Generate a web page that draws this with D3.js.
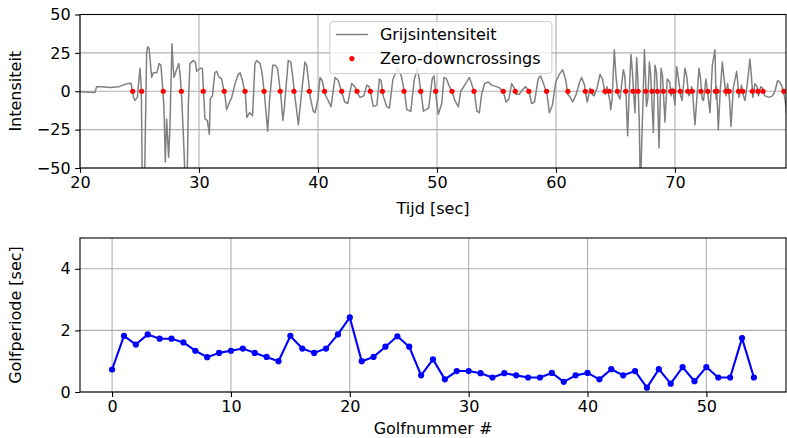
<!DOCTYPE html>
<html>
<head>
<meta charset="utf-8">
<script src="https://cdn.jsdelivr.net/npm/d3@7"></script>
<style>
  html, body { margin: 0; padding: 0; background: #fff; }
  svg { display: block; }
  text { font-family: "DejaVu Sans", sans-serif; fill: #000; }
</style>
</head>
<body>
<svg id="chart" width="787" height="438"></svg>
<script>
// Grey intensity signal: [time in sec, intensity]
const signal = [
  [20.0,-0.3],[21.25,-0.8],[21.4,3],[21.8,3],[22.5,2.5],[23.3,3],[23.6,4],[24.0,5],[24.3,5],
  [24.5,-4],[24.62,-6],[24.82,-4],[25.04,15],[25.15,3],[25.25,-70],[25.4,-70],[25.6,25],[25.69,29],
  [25.8,28],[25.9,20],[26.02,9],[26.16,12],[26.45,12],[26.65,18],[26.8,17],[26.92,5],[27.05,-10],
  [27.17,-46],[27.28,-18],[27.45,-43],[27.55,-25],[27.73,31],[27.82,17],[27.9,9],[28.07,13],[28.3,18],
  [28.42,10],[28.55,-5],[28.75,-40],[28.88,-70],[28.98,-70],[29.1,-10],[29.24,18],[29.52,20],[29.7,19],
  [29.8,13],[30.1,15],[30.28,15],[30.4,-3],[30.5,-18],[30.7,-19],[30.87,-28],[30.95,-5],[31.13,-3],
  [31.33,12],[31.48,13],[31.7,9],[31.9,8],[32.2,-4],[32.32,-12],[32.52,-8],[32.75,-4],[33.03,5],
  [33.3,11],[33.45,12],[33.65,7],[33.9,-2],[34.02,-17],[34.25,-14],[34.5,-16],[34.7,18],[34.85,20],
  [35.13,18],[35.3,12],[35.5,-2],[35.77,-26],[35.92,-7],[36.2,17],[36.4,17],[36.6,15],[36.88,-3],
  [37.05,-19],[37.17,-11],[37.5,20],[37.72,19],[37.9,8],[38.05,-3],[38.2,-12],[38.35,-22],[38.55,-6],
  [38.9,19],[39.05,17],[39.2,7],[39.35,-4],[39.6,-13],[39.75,-14],[40.0,-5],[40.17,9],[40.35,7],
  [40.6,-2],[40.85,-6],[41.1,-10],[41.43,9],[41.7,7],[42.05,-2],[42.25,-7],[42.5,-8],[42.83,5],
  [43.1,3],[43.3,-1],[43.53,-4],[43.85,-3],[44.1,4],[44.3,3],[44.45,-2],[44.65,-10],[44.95,-9],
  [45.16,8],[45.3,7],[45.48,-3],[45.77,-10],[46.0,-11],[46.3,8],[46.7,15],[47.0,10],[47.3,-2],
  [47.46,-12],[47.8,-13],[48.1,8],[48.38,15],[48.55,5],[48.7,-3],[48.86,-13],[49.3,-11],[49.6,8],
  [49.75,10],[49.9,-2],[50.11,-15],[50.4,-8],[50.59,9],[50.8,8],[51.0,4],[51.3,-1],[51.5,-6],
  [51.79,-10],[52.0,0],[52.49,6],[52.72,9],[52.9,5],[53.15,-1],[53.35,-13],[53.56,-14],[53.75,-2],
  [54.0,5],[54.31,6],[54.6,4],[55.0,3],[55.3,2],[55.6,-1],[55.8,-7],[56.05,-5],[56.27,5],[56.5,2],
  [56.62,-2],[56.9,-2],[57.2,1],[57.45,3],[57.65,1],[57.78,-2],[57.95,-8],[58.2,-7],[58.5,8],
  [58.71,10],[58.95,5],[59.25,-2],[59.44,-14],[59.7,-9],[59.98,6],[60.28,11],[60.56,14],[60.8,8],
  [61.0,-2],[61.2,-4],[61.4,-7],[61.7,-2],[61.95,5],[62.15,9],[62.4,4],[62.5,-2],[62.63,-7],
  [62.85,2],[63.05,-2],[63.2,-3],[63.45,2],[63.7,11],[63.9,8],[64.15,-2],[64.28,3],[64.52,-6],
  [64.6,-12],[64.72,-5],[64.9,27],[65.05,9],[65.2,-2],[65.38,-5],[65.66,14],[65.78,10],[65.9,-4],
  [66.02,-29],[66.15,-2],[66.3,24],[66.42,13],[66.55,-4],[66.64,-14],[66.78,22],[66.88,8],[67.0,-20],
  [67.1,-70],[67.18,-40],[67.3,-10],[67.43,27],[67.52,10],[67.6,-10],[67.72,-5],[67.85,19],[67.95,12],
  [68.08,-10],[68.18,-27],[68.32,17],[68.45,12],[68.55,-5],[68.66,-37],[68.83,15],[68.95,10],[69.05,-4],
  [69.16,-20],[69.35,8],[69.55,6],[69.68,-3],[69.78,2],[69.9,-3],[70.0,-9],[70.14,16],[70.3,8],
  [70.48,-3],[70.6,-6],[70.84,15],[70.98,10],[71.15,-3],[71.3,-1],[71.4,3],[71.5,-3],[71.68,-22],
  [71.85,-3],[72.02,15],[72.15,8],[72.28,-5],[72.4,-6],[72.6,8],[72.78,-3],[72.94,-14],[73.14,17],
  [73.36,27],[73.45,-5],[73.49,3],[73.58,-12],[73.64,-25],[73.8,0],[73.98,19],[74.1,10],[74.3,-3],
  [74.42,5],[74.58,-5],[74.71,-23],[74.9,2],[75.18,13],[75.28,5],[75.38,-4],[75.6,4],[75.75,-3],
  [75.88,-6],[76.05,3],[76.3,21],[76.42,10],[76.55,-4],[76.72,5],[76.9,3],[77.02,-3],[77.2,3],
  [77.35,2],[77.5,-2],[77.56,-3],[77.9,-4],[78.2,-3],[78.4,0],[78.63,7],[78.8,6],[79.0,3],
  [79.25,-5],[79.39,-16],[79.6,-5]
];

// Times (sec) where the signal crosses zero going down
const downcrossings = [
  24.43, 25.18, 27.0, 28.52, 30.36, 32.12, 33.87, 35.47, 36.83, 37.98,
  39.27, 40.55, 41.99, 43.28, 44.4, 45.41, 47.23, 48.63, 49.89, 51.26,
  53.11, 55.57, 56.58, 57.72, 59.21, 61.0, 62.47, 63.0, 64.12, 64.48,
  65.16, 65.86, 66.47, 66.9, 67.54, 68.07, 68.52, 69.02, 69.64, 69.9,
  70.45, 71.07, 71.45, 72.18, 72.75, 73.40, 73.54, 74.28, 74.55, 75.34,
  75.70, 76.5, 76.97, 77.4, 79.15, 79.65
];

// Wave period (sec) per wave number
const wavePeriods = [
  0.73, 1.82, 1.54, 1.87, 1.73, 1.73, 1.61, 1.34, 1.13, 1.27,
  1.34, 1.41, 1.27, 1.14, 1.0, 1.82, 1.41, 1.27, 1.41, 1.87,
  2.42, 1.0, 1.14, 1.47, 1.81, 1.47, 0.54, 1.06, 0.41, 0.68,
  0.68, 0.61, 0.47, 0.61, 0.54, 0.47, 0.47, 0.62, 0.33, 0.54,
  0.62, 0.41, 0.74, 0.54, 0.68, 0.14, 0.74, 0.27, 0.81, 0.35,
  0.81, 0.47, 0.47, 1.75, 0.47
];

const topXTicks = [20, 30, 40, 50, 60, 70];
const topYTicks = [-50, -25, 0, 25, 50];
const botXTicks = [0, 10, 20, 30, 40, 50];
const botYTicks = [0, 2, 4];

const legendLabels = ["Grijsintensiteit", "Zero-downcrossings"];

const svg = d3.select("#chart");
const FONT = 16;
const fmt = d => (d < 0 ? "\u2212" + Math.abs(d) : String(d));

function drawAxes(g, x, y, xt, yt, w, h, xlabel, ylabel, xlabelGap) {
  // grid
  g.append("g").selectAll("line.gx").data(xt).join("line")
    .attr("x1", d => x(d)).attr("x2", d => x(d))
    .attr("y1", 0).attr("y2", h)
    .attr("stroke", "#b0b0b0").attr("stroke-width", 1.1);
  g.append("g").selectAll("line.gy").data(yt).join("line")
    .attr("y1", d => y(d)).attr("y2", d => y(d))
    .attr("x1", 0).attr("x2", w)
    .attr("stroke", "#b0b0b0").attr("stroke-width", 1.1);

  const xa = g.append("g").attr("transform", `translate(0,${h})`)
    .call(d3.axisBottom(x).tickValues(xt).tickSize(4.9).tickPadding(4.2).tickFormat(fmt));
  const ya = g.append("g")
    .call(d3.axisLeft(y).tickValues(yt).tickSize(4.9).tickPadding(4.5).tickFormat(fmt));
  [xa, ya].forEach(a => {
    a.select(".domain").remove();
    a.selectAll("line").attr("stroke", "#000").attr("stroke-width", 1.1);
    a.selectAll("text").style("font-size", FONT + "px")
      .style("font-family", "DejaVu Sans, sans-serif").attr("fill", "#000");
  });

  g.append("text").attr("x", w / 2).attr("y", h + xlabelGap)
    .attr("text-anchor", "middle").style("font-size", FONT + "px").text(xlabel);
  g.append("text")
    .attr("transform", `translate(-59,${h / 2}) rotate(-90)`)
    .attr("text-anchor", "middle").style("font-size", FONT + "px").text(ylabel);
}

function drawFrame(g, w, h) {
  g.append("rect").attr("x", 0).attr("y", 0).attr("width", w).attr("height", h)
    .attr("fill", "none").attr("stroke", "#000").attr("stroke-width", 1.1);
}

// ---------- top panel: intensity over time ----------
const T = { left: 80, top: 14.5, w: 706, h: 153.5 };
const gt = svg.append("g").attr("transform", `translate(${T.left},${T.top})`);
const xT = d3.scaleLinear().domain([20, 79.33]).range([0, T.w]);
const yT = d3.scaleLinear().domain([-50, 50]).range([T.h, 0]);

drawAxes(gt, xT, yT, topXTicks, topYTicks, T.w, T.h, "Tijd [sec]", "Intensiteit", 46);

svg.append("defs").append("clipPath").attr("id", "clipTop")
  .append("rect").attr("width", T.w).attr("height", T.h);

const plotT = gt.append("g").attr("clip-path", "url(#clipTop)");
plotT.append("path").datum(signal)
  .attr("fill", "none").attr("stroke", "#808080").attr("stroke-width", 1.5)
  .attr("stroke-linejoin", "round")
  .attr("d", d3.line().x(d => xT(d[0])).y(d => yT(d[1])));
plotT.append("g").selectAll("circle").data(downcrossings).join("circle")
  .attr("cx", d => xT(d)).attr("cy", yT(0)).attr("r", 2.6).attr("fill", "#ff0000");

drawFrame(gt, T.w, T.h);

// legend
const lg = gt.append("g").attr("transform", `translate(${xT(41.0)},${yT(45.4)})`);
lg.append("rect").attr("width", 222).attr("height", 52).attr("rx", 3)
  .attr("fill", "#fff").attr("fill-opacity", 0.8)
  .attr("stroke", "#cccccc").attr("stroke-width", 1);
lg.append("line").attr("x1", 6).attr("x2", 38).attr("y1", 13).attr("y2", 13)
  .attr("stroke", "#808080").attr("stroke-width", 1.5);
lg.append("circle").attr("cx", 22).attr("cy", 37).attr("r", 2.6).attr("fill", "#ff0000");
lg.selectAll("text.lab").data(legendLabels).join("text")
  .attr("x", 50).attr("y", (d, i) => 13 + i * 24).attr("dy", "0.35em")
  .style("font-size", FONT + "px").text(d => d);

// ---------- bottom panel: wave period per wave ----------
const B = { left: 80, top: 238, w: 706, h: 154 };
const gb = svg.append("g").attr("transform", `translate(${B.left},${B.top})`);
const n = wavePeriods.length - 1;
const pad = n * 0.05;
const xB = d3.scaleLinear().domain([-pad, n + pad]).range([0, B.w]);
const yB = d3.scaleLinear().domain([0, 5]).range([B.h, 0]);

drawAxes(gb, xB, yB, botXTicks, botYTicks, B.w, B.h, "Golfnummer #", "Golfperiode [sec]", 42);

gb.append("path").datum(wavePeriods)
  .attr("fill", "none").attr("stroke", "#0000ff").attr("stroke-width", 2.1)
  .attr("stroke-linejoin", "round")
  .attr("d", d3.line().x((d, i) => xB(i)).y(d => yB(d)));
gb.append("g").selectAll("circle").data(wavePeriods).join("circle")
  .attr("cx", (d, i) => xB(i)).attr("cy", d => yB(d)).attr("r", 3.1).attr("fill", "#0000ff");

drawFrame(gb, B.w, B.h);
</script>
</body>
</html>
